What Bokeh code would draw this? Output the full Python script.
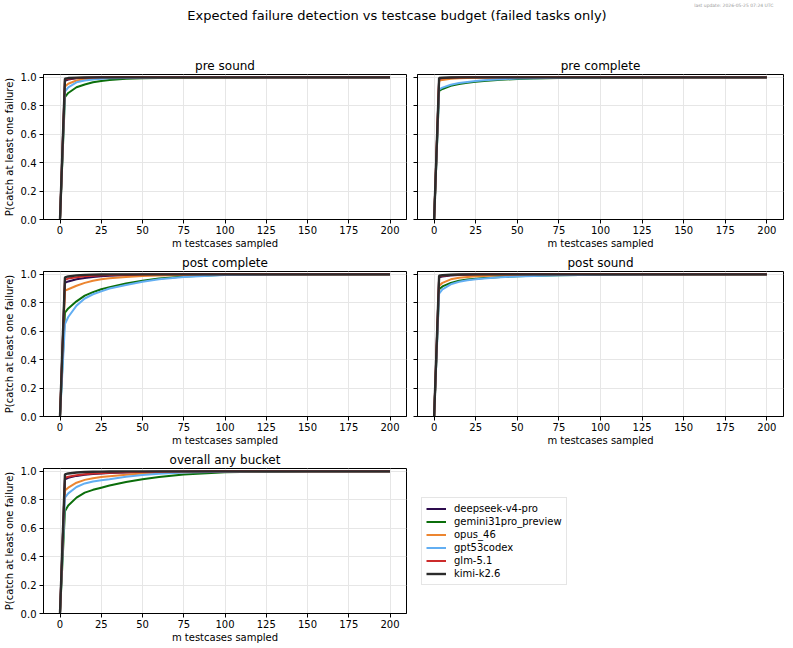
from bokeh.plotting import figure
from bokeh.layouts import column, row
from bokeh.models import (Legend, LegendItem, FixedTicker, Range1d, Title,
                          ColumnDataSource, CustomJSTickFormatter)
from bokeh.embed import file_html
from bokeh.resources import INLINE

FONT = "DejaVu Sans"

suptitle = "Expected failure detection vs testcase budget (failed tasks only)"
update_note = "last update: 2026-05-25 07:24 UTC"
x_label = "m testcases sampled"
y_label = "P(catch at least one failure)"

m_values = [0, 3, 5, 10, 15, 20, 25, 30, 40, 50, 60, 75, 100, 125, 150, 200]
models = ["deepseek-v4-pro", "gemini31pro_preview", "opus_46", "gpt53codex", "glm-5.1", "kimi-k2.6"]
colors = ["#2d0c4e", "#0b6e0b", "#ec8530", "#62aef2", "#cc2b2b", "#2b2b2b"]
widths = [2, 2, 2, 2, 2, 2.4]
x_ticks = [0, 25, 50, 75, 100, 125, 150, 175, 200]
y_ticks = [0.0, 0.2, 0.4, 0.6, 0.8, 1.0]

pre_sound = {
    "deepseek-v4-pro":     [0, .975, .985, .993, .996, .998, .999, .999, 1, 1, 1, 1, 1, 1, 1, 1],
    "gemini31pro_preview": [0, .86, .89, .93, .95, .965, .975, .982, .99, .994, .996, .998, .999, 1, 1, 1],
    "opus_46":             [0, .935, .955, .978, .987, .992, .995, .997, .998, .999, 1, 1, 1, 1, 1, 1],
    "gpt53codex":          [0, .90, .93, .965, .978, .985, .99, .993, .996, .998, .999, 1, 1, 1, 1, 1],
    "glm-5.1":             [0, .985, .99, .996, .998, .999, 1, 1, 1, 1, 1, 1, 1, 1, 1, 1],
    "kimi-k2.6":           [0, .99, .995, .998, .999, 1, 1, 1, 1, 1, 1, 1, 1, 1, 1, 1],
}
pre_complete = {
    "deepseek-v4-pro":     [0, .99, .995, .998, .999, 1, 1, 1, 1, 1, 1, 1, 1, 1, 1, 1],
    "gemini31pro_preview": [0, .905, .918, .94, .953, .962, .969, .975, .983, .988, .992, .995, .998, .999, 1, 1],
    "opus_46":             [0, .975, .982, .99, .994, .996, .997, .998, .999, 1, 1, 1, 1, 1, 1, 1],
    "gpt53codex":          [0, .915, .928, .948, .96, .968, .975, .98, .987, .991, .994, .997, .999, 1, 1, 1],
    "glm-5.1":             [0, .99, .994, .997, .999, 1, 1, 1, 1, 1, 1, 1, 1, 1, 1, 1],
    "kimi-k2.6":           [0, .995, .997, .999, 1, 1, 1, 1, 1, 1, 1, 1, 1, 1, 1, 1],
}
post_complete = {
    "deepseek-v4-pro":     [0, .94, .95, .965, .975, .982, .987, .99, .994, .997, .998, .999, 1, 1, 1, 1],
    "gemini31pro_preview": [0, .73, .76, .81, .85, .875, .895, .91, .935, .955, .97, .985, .997, 1, 1, 1],
    "opus_46":             [0, .885, .895, .92, .94, .955, .965, .972, .982, .988, .992, .996, .999, 1, 1, 1],
    "gpt53codex":          [0, .65, .70, .78, .83, .86, .88, .90, .925, .948, .965, .982, .995, .999, 1, 1],
    "glm-5.1":             [0, .962, .97, .98, .986, .99, .993, .995, .997, .999, 1, 1, 1, 1, 1, 1],
    "kimi-k2.6":           [0, .978, .985, .993, .996, .998, .999, 1, 1, 1, 1, 1, 1, 1, 1, 1],
}
post_sound = {
    "deepseek-v4-pro":     [0, .98, .985, .992, .995, .997, .998, .999, 1, 1, 1, 1, 1, 1, 1, 1],
    "gemini31pro_preview": [0, .895, .915, .94, .955, .963, .969, .974, .981, .986, .99, .994, .998, 1, 1, 1],
    "opus_46":             [0, .92, .94, .965, .976, .982, .986, .989, .993, .996, .998, .999, 1, 1, 1, 1],
    "gpt53codex":          [0, .865, .895, .93, .948, .958, .965, .971, .979, .985, .989, .993, .997, .999, 1, 1],
    "glm-5.1":             [0, .985, .99, .995, .997, .999, 1, 1, 1, 1, 1, 1, 1, 1, 1, 1],
    "kimi-k2.6":           [0, .99, .994, .997, .999, 1, 1, 1, 1, 1, 1, 1, 1, 1, 1, 1],
}
overall_any_bucket = {
    "deepseek-v4-pro":     [0, .943, .955, .968, .976, .981, .985, .988, .992, .995, .997, .998, 1, 1, 1, 1],
    "gemini31pro_preview": [0, .72, .76, .815, .85, .87, .885, .90, .925, .945, .96, .978, .993, .998, 1, 1],
    "opus_46":             [0, .866, .885, .92, .94, .952, .96, .966, .976, .984, .989, .994, .998, 1, 1, 1],
    "gpt53codex":          [0, .815, .845, .89, .915, .928, .937, .945, .962, .975, .983, .991, .997, .999, 1, 1],
    "glm-5.1":             [0, .955, .962, .973, .98, .984, .987, .99, .994, .996, .998, .999, 1, 1, 1, 1],
    "kimi-k2.6":           [0, .978, .985, .992, .995, .997, .998, .999, 1, 1, 1, 1, 1, 1, 1, 1],
}

ROW_H = 197
LEFT_W, RIGHT_W = 411, 382


def style_title(t, size):
    t.text_font = FONT
    t.text_font_size = size
    t.text_font_style = "normal"
    t.text_color = "black"


def make_panel(title, data, left_col):
    if left_col:
        w, lb, rb = LEFT_W, 40, 5
    else:
        w, lb, rb = RIGHT_W, 6, 10
    p = figure(width=w, height=ROW_H,
               x_range=Range1d(-10, 210), y_range=Range1d(0, 1.02),
               toolbar_location=None, output_backend="svg",
               min_border_left=lb, min_border_right=rb,
               min_border_top=20, min_border_bottom=31)
    p.title.text = title
    p.title.align = "center"
    style_title(p.title, "12px")
    p.title.standoff = 3

    for name, col, lw in zip(models, colors, widths):
        src = ColumnDataSource(dict(m=m_values, p=data[name]))
        p.line("m", "p", source=src, line_color=col, line_width=lw)

    p.xaxis.ticker = FixedTicker(ticks=x_ticks)
    p.yaxis.ticker = FixedTicker(ticks=y_ticks)
    for ax in [p.xaxis[0], p.yaxis[0]]:
        ax.major_label_text_font = FONT
        ax.major_label_text_font_size = "10px"
        ax.major_label_text_color = "black"
        ax.axis_label_text_font = FONT
        ax.axis_label_text_font_size = "10px"
        ax.axis_label_text_font_style = "normal"
        ax.axis_label_text_color = "black"
        ax.major_tick_out = 4
        ax.major_tick_in = 0
        ax.minor_tick_out = 0
        ax.minor_tick_in = 0
        ax.axis_line_color = "black"
        ax.major_tick_line_color = "black"
    p.xaxis.axis_label = x_label
    p.xaxis.major_label_standoff = 2
    p.xaxis.axis_label_standoff = 1
    if left_col:
        p.yaxis.formatter = CustomJSTickFormatter(code="return tick.toFixed(1);")
        p.yaxis.major_label_standoff = 3
        p.yaxis.axis_label = y_label
        p.yaxis.axis_label_standoff = 3
    else:
        p.yaxis.formatter = CustomJSTickFormatter(code="return '';")
        p.yaxis.major_label_standoff = 0

    p.grid.grid_line_color = "#e6e6e6"
    p.grid.grid_line_width = 1
    p.outline_line_color = "black"
    p.outline_line_alpha = 1
    p.outline_line_width = 1
    return p


# header: update note (outermost) and the figure-wide title
header = figure(width=793, height=54, x_axis_type=None, y_axis_type=None,
                toolbar_location=None, output_backend="svg", min_border=0,
                min_border_top=4,
                x_range=Range1d(0, 1), y_range=Range1d(0, 1))
header.outline_line_color = None
header.grid.visible = False
header.title.text = update_note
header.title.align = "right"
header.title.offset = 20
style_title(header.title, "4.5px")
header.title.text_color = "#999999"
header.title.standoff = 0
main_title = Title(text=suptitle, align="center")
style_title(main_title, "13px")
main_title.standoff = -4
header.add_layout(main_title, "above")

p1 = make_panel("pre sound", pre_sound, True)
p2 = make_panel("pre complete", pre_complete, False)
p3 = make_panel("post complete", post_complete, True)
p4 = make_panel("post sound", post_sound, False)
p5 = make_panel("overall any bucket", overall_any_bucket, True)

# legend panel occupying the sixth grid slot (its lines hold no visible points)
leg_fig = figure(width=RIGHT_W, height=ROW_H, x_axis_type=None, y_axis_type=None,
                 toolbar_location=None, output_backend="svg",
                 min_border_left=6, min_border_right=10,
                 min_border_top=20, min_border_bottom=31,
                 x_range=Range1d(0, 1), y_range=Range1d(0, 1))
leg_fig.outline_line_color = None
leg_fig.grid.visible = False
items = []
for name, col, lw in zip(models, colors, widths):
    r = leg_fig.line(x=[float("nan")], y=[float("nan")], line_color=col, line_width=lw)
    items.append(LegendItem(label=name, renderers=[r]))
legend = Legend(items=items, location="center_left")
legend.label_text_font = FONT
legend.label_text_font_size = "10px"
legend.label_text_color = "black"
legend.glyph_width = 20
legend.glyph_height = 13
legend.label_height = 13
legend.label_standoff = 8
legend.spacing = 0
legend.padding = 4
legend.margin = 4
legend.border_line_color = "#cccccc"
legend.border_line_width = 1
legend.background_fill_alpha = 0.8
leg_fig.add_layout(legend)

layout = column(header, row(p1, p2), row(p3, p4), row(p5, leg_fig))

open("out.html", "w").write(file_html(layout, INLINE))
